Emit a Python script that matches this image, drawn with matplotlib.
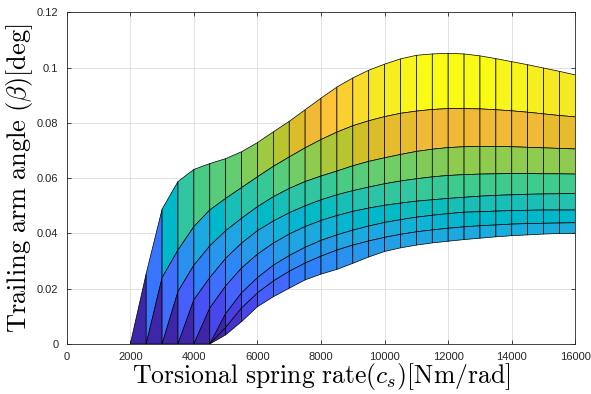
import numpy as np
import matplotlib.pyplot as plt
from matplotlib.collections import PolyCollection
from matplotlib.colors import ListedColormap, Normalize

# spring rate grid [Nm/rad]
spring_rate = np.arange(1500, 16001, 500)

# trailing arm angle [deg], one row per load case (top to bottom)
beta_1 = [0, 0, 0.0255, 0.0488, 0.0588, 0.0632, 0.0653, 0.0671, 0.0696, 0.0729,
          0.0768, 0.0806, 0.0848, 0.0890, 0.0930, 0.0963, 0.0991, 0.1013, 0.1032, 0.1045,
          0.1050, 0.1052, 0.1050, 0.1043, 0.1033, 0.1022, 0.1011, 0.0999, 0.0987, 0.0974]
beta_2 = [0, 0, 0, 0.0240, 0.0340, 0.0425, 0.0485, 0.0527, 0.0566, 0.0605,
          0.0643, 0.0677, 0.0710, 0.0740, 0.0767, 0.0790, 0.0808, 0.0823, 0.0835, 0.0843,
          0.0849, 0.0852, 0.0852, 0.0851, 0.0848, 0.0844, 0.0839, 0.0833, 0.0827, 0.0822]
beta_3 = [0, 0, 0, 0, 0.0190, 0.0285, 0.0355, 0.0410, 0.0455, 0.0497,
          0.0533, 0.0563, 0.0588, 0.0608, 0.0626, 0.0645, 0.0661, 0.0674, 0.0686, 0.0697,
          0.0705, 0.0711, 0.0714, 0.0715, 0.0715, 0.0714, 0.0712, 0.0710, 0.0708, 0.0706]
beta_4 = [0, 0, 0, 0, 0, 0.0160, 0.0240, 0.0310, 0.0365, 0.0410,
          0.0445, 0.0475, 0.0500, 0.0522, 0.0540, 0.0555, 0.0568, 0.0580, 0.0590, 0.0598,
          0.0605, 0.0610, 0.0613, 0.0615, 0.0616, 0.0617, 0.0617, 0.0616, 0.0616, 0.0615]
beta_5 = [0, 0, 0, 0, 0, 0, 0.0130, 0.0210, 0.0275, 0.0325,
          0.0365, 0.0398, 0.0425, 0.0447, 0.0465, 0.0480, 0.0492, 0.0502, 0.0510, 0.0517,
          0.0522, 0.0527, 0.0531, 0.0535, 0.0538, 0.0540, 0.0542, 0.0543, 0.0544, 0.0545]
beta_6 = [0, 0, 0, 0, 0, 0, 0, 0.0110, 0.0185, 0.0240,
          0.0285, 0.0320, 0.0350, 0.0375, 0.0395, 0.0412, 0.0427, 0.0440, 0.0450, 0.0459,
          0.0466, 0.0472, 0.0477, 0.0479, 0.0481, 0.0483, 0.0484, 0.0485, 0.0485, 0.0485]
beta_7 = [0, 0, 0, 0, 0, 0, 0, 0.0060, 0.0130, 0.0185,
          0.0228, 0.0263, 0.0293, 0.0318, 0.0340, 0.0358, 0.0373, 0.0386, 0.0397, 0.0406,
          0.0413, 0.0419, 0.0424, 0.0428, 0.0431, 0.0434, 0.0436, 0.0437, 0.0438, 0.0439]
beta_8 = [0, 0, 0, 0, 0, 0, 0, 0.0033, 0.0081, 0.0135,
          0.0171, 0.0202, 0.0232, 0.0253, 0.0270, 0.0292, 0.0315, 0.0335, 0.0348, 0.0358,
          0.0366, 0.0372, 0.0378, 0.0383, 0.0388, 0.0392, 0.0395, 0.0398, 0.0400, 0.0401]

x_ticks = np.arange(0, 16001, 2000)
y_ticks = [0, 0.02, 0.04, 0.06, 0.08, 0.1, 0.12]
y_ticklabels = ['0', '0.02', '0.04', '0.06', '0.08', '0.1', '0.12']

# MATLAB parula, 64 levels
parula = ListedColormap([
    [0.2422, 0.1504, 0.6603], [0.2504, 0.1650, 0.7076], [0.2578, 0.1818, 0.7511],
    [0.2647, 0.1978, 0.7952], [0.2706, 0.2147, 0.8364], [0.2751, 0.2342, 0.8710],
    [0.2783, 0.2559, 0.8991], [0.2803, 0.2782, 0.9221], [0.2813, 0.3006, 0.9414],
    [0.2810, 0.3228, 0.9579], [0.2795, 0.3447, 0.9717], [0.2760, 0.3667, 0.9829],
    [0.2699, 0.3892, 0.9906], [0.2602, 0.4123, 0.9952], [0.2440, 0.4358, 0.9988],
    [0.2206, 0.4603, 0.9973], [0.1963, 0.4847, 0.9892], [0.1834, 0.5074, 0.9798],
    [0.1786, 0.5289, 0.9682], [0.1764, 0.5499, 0.9520], [0.1687, 0.5703, 0.9359],
    [0.1540, 0.5902, 0.9218], [0.1460, 0.6091, 0.9079], [0.1380, 0.6276, 0.8973],
    [0.1248, 0.6459, 0.8883], [0.1113, 0.6635, 0.8763], [0.0952, 0.6798, 0.8598],
    [0.0689, 0.6948, 0.8394], [0.0297, 0.7082, 0.8163], [0.0036, 0.7203, 0.7917],
    [0.0067, 0.7312, 0.7660], [0.0433, 0.7411, 0.7394], [0.0964, 0.7500, 0.7120],
    [0.1408, 0.7584, 0.6842], [0.1717, 0.7670, 0.6554], [0.1938, 0.7758, 0.6251],
    [0.2161, 0.7843, 0.5923], [0.2470, 0.7918, 0.5567], [0.2906, 0.7973, 0.5188],
    [0.3406, 0.8008, 0.4789], [0.3909, 0.8029, 0.4354], [0.4456, 0.8024, 0.3909],
    [0.5044, 0.7993, 0.3480], [0.5616, 0.7942, 0.3045], [0.6174, 0.7876, 0.2612],
    [0.6720, 0.7793, 0.2227], [0.7242, 0.7698, 0.1910], [0.7738, 0.7598, 0.1646],
    [0.8203, 0.7498, 0.1535], [0.8634, 0.7406, 0.1596], [0.9035, 0.7330, 0.1774],
    [0.9393, 0.7288, 0.2100], [0.9728, 0.7298, 0.2394], [0.9956, 0.7434, 0.2371],
    [0.9970, 0.7659, 0.2199], [0.9952, 0.7893, 0.2028], [0.9892, 0.8136, 0.1885],
    [0.9786, 0.8386, 0.1766], [0.9676, 0.8639, 0.1643], [0.9610, 0.8890, 0.1537],
    [0.9597, 0.9135, 0.1423], [0.9628, 0.9373, 0.1265], [0.9691, 0.9606, 0.1064],
    [0.9769, 0.9839, 0.0805]], name='parula')

plt.rcParams['mathtext.fontset'] = 'cm'

Z = np.array([beta_1, beta_2, beta_3, beta_4, beta_5, beta_6, beta_7, beta_8])
x = spring_rate

fig = plt.figure(figsize=(5.91, 3.94), dpi=100)
ax = fig.add_axes([0.1129, 0.1269, 0.8606, 0.8414])

# surface patches seen from the side, flat colour from the upper-left node
polys, cvals = [], []
for i in range(Z.shape[0] - 1):
    for j in range(len(x) - 1):
        polys.append([(x[j], Z[i, j]), (x[j + 1], Z[i, j + 1]),
                      (x[j + 1], Z[i + 1, j + 1]), (x[j], Z[i + 1, j])])
        cvals.append(Z[i, j])
pc = PolyCollection(polys, cmap=parula, norm=Normalize(0, Z.max()),
                    edgecolors='black', linewidths=0.5, zorder=2)
pc.set_array(np.array(cvals))
ax.add_collection(pc)

ax.set_xlim(0, 16000)
ax.set_ylim(0, 0.12)
ax.set_xticks(x_ticks)
ax.set_xticklabels([str(v) for v in x_ticks])
ax.set_yticks(y_ticks)
ax.set_yticklabels(y_ticklabels)
ax.grid(True, color='#dcdcdc', linewidth=0.6, zorder=0)
ax.set_axisbelow(True)
ax.tick_params(direction='in', length=3, width=0.6, colors='#262626',
               labelsize=8, top=True, right=True, pad=6)
for lab in ax.get_xticklabels() + ax.get_yticklabels():
    lab.set_fontfamily('Liberation Sans')
for sp in ax.spines.values():
    sp.set_color('#262626')
    sp.set_linewidth(0.6)

ax.set_xlabel(r'$\mathrm{Torsional\ spring\ rate}(c_s)[\mathrm{Nm/rad}]$',
              fontsize=18.5, labelpad=-1)
ax.set_ylabel(r'$\mathrm{Trailing\ arm\ angle\ }(\beta)[\mathrm{deg}]$',
              fontsize=19, labelpad=1)

fig.savefig('out.png', dpi=100)
